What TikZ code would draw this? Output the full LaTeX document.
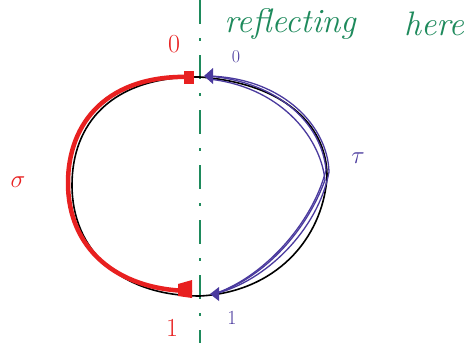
\documentclass[tikz,border=0pt]{standalone}
\usetikzlibrary{arrows.meta}
\definecolor{penred}{HTML}{E82020}
\definecolor{penpurple}{HTML}{4A3A9E}
\definecolor{pengreen}{HTML}{1E8A5C}
\tikzset{
  hand/.style={font=\fontsize{34}{34}\selectfont\itshape},
  lab/.style={font=\fontsize{26}{26}\selectfont},
  blackarc/.style={draw=black, line width=1.6pt},
  redarc/.style={draw=penred, line width=4.5pt, line cap=round},
  purplearc/.style={draw=penpurple, line width=1.3pt},
  mirror/.style={draw=pengreen, line width=2pt, dash pattern=on 24pt off 14pt on 3pt off 14pt},
}
\begin{document}
\begin{tikzpicture}[x=1pt,y=-1pt]
\useasboundingbox[fill=white] (0,0) rectangle (466,343);
% points
\coordinate (top) at (200,77);
\coordinate (bot) at (200,296);
\coordinate (rtop) at (192,77);
\coordinate (rbot) at (190,291);
\coordinate (ptop) at (208,76);
\coordinate (pbot) at (214,294);
% reflecting line
\draw[mirror] (200,0) -- (200,343);
% black loop
\draw[blackarc] (top) .. controls (110,76) and (72,125) .. (72,185)
  .. controls (72,250) and (120,296) .. (bot);
\draw[blackarc] (top) .. controls (290,84) and (328,130) .. (327,178)
  .. controls (322,240) and (275,292) .. (bot);
% red path sigma
\draw[redarc] (rtop) .. controls (108,74) and (68,122) .. (68,183)
  .. controls (68,248) and (116,290) .. (rbot);
\fill[penred] (rtop) ++(-8,-6) -- ++(10,0) -- ++(0,13) -- ++(-10,0) -- cycle;
\fill[penred] (rbot) ++(-12,-7) -- ++(14,-4) -- ++(0,18) -- ++(-14,-2) -- cycle;
% purple path tau
\draw[purplearc] (ptop) .. controls (285,78) and (328,128) .. (329,172)
  .. controls (318,230) and (265,282) .. (pbot);
\draw[purplearc] (ptop) .. controls (280,82) and (322,125) .. (326,170)
  .. controls (312,225) and (262,278) .. (pbot);
\draw[purplearc] (ptop) ++(0,3) .. controls (278,86) and (320,135) .. (325,180)
  .. controls (305,235) and (260,280) .. (pbot);
\fill[penpurple] (ptop) ++(-4,0) -- ++(9,-8) -- ++(0,16) -- cycle;
\fill[penpurple] (pbot) ++(-4,0) -- ++(9,-7) -- ++(0,14) -- cycle;
% labels
\node[lab, text=penred] (r0) at (174,44) {0};
\node[text=penpurple, font=\fontsize{18}{18}\selectfont] (p0) at (236,57) {0};
\node[lab, text=penred] (sig) at (18,182) {$\sigma$};
\node[lab, text=penpurple] (tau) at (358,158) {$\tau$};
\node[lab, text=penred] (r1) at (172,328) {1};
\node[text=penpurple, font=\fontsize{20}{20}\selectfont] (p1) at (232,318) {1};
\node[hand, text=pengreen] (refl) at (290,24) {reflecting};
\node[hand, text=pengreen] (here) at (434,24) {here};
\end{tikzpicture}
\end{document}
